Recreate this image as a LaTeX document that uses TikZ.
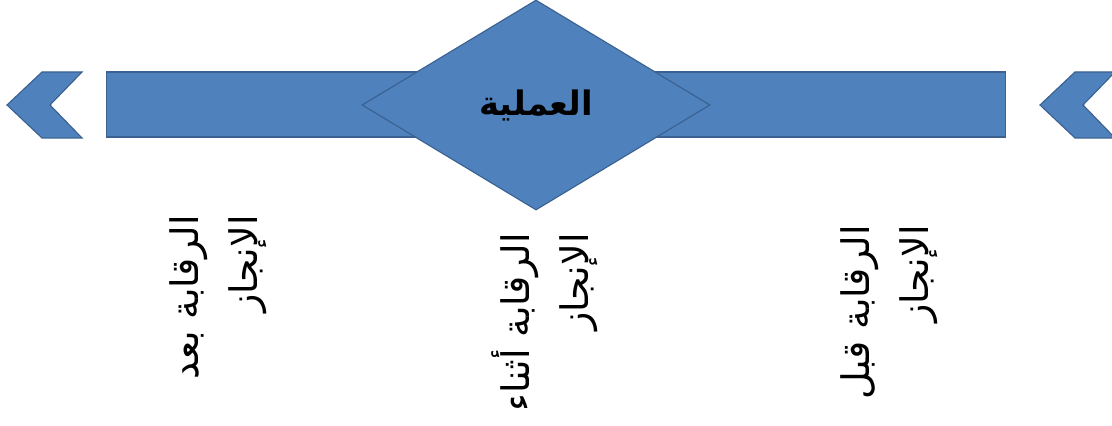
\documentclass[tikz,border=0pt]{standalone}
\usepackage{fontspec}
\newfontfamily\arabicfont[Script=Arabic]{DejaVu Sans}
\TeXXeTstate=1
\usetikzlibrary{shapes.geometric}
\definecolor{barblue}{HTML}{4F81BD}
\definecolor{edgeblue}{HTML}{3A6190}
\tikzset{
  shapeblue/.style={fill=barblue, draw=edgeblue, line width=0.8pt},
  stagelabel/.style={rotate=90, anchor=east, align=right, inner sep=0pt,
    font=\arabicfont\fontsize{27}{42}\selectfont},
}
\begin{document}
\begin{tikzpicture}[x=0.025cm, y=-0.025cm]
    \useasboundingbox (0,0) rectangle (1112,426);
    \clip (0,0) rectangle (1112,426);
    % chevrons at both ends
    \foreach \cx in {7,1040} {
      \draw[shapeblue] (\cx,105) -- (\cx+35,72) -- (\cx+75,72) -- (\cx+43,105)
        -- (\cx+75,138) -- (\cx+35,138) -- cycle;
    }
    \node (bar) [shapeblue, rectangle, inner sep=0pt, minimum width=22.45cm, minimum height=1.625cm] at (556,104.5) {};
    \node (proc) [shapeblue, diamond, inner sep=0pt, minimum width=8.7cm, minimum height=5.25cm,
      font=\arabicfont\bfseries\fontsize{24}{28}\selectfont] at (536,105) {\beginR العملية\endR};
    \node (after) [stagelabel] at (218,215) {\beginR الرقابة بعد\endR\\\beginR الإنجاز\endR};
    \node (during) [stagelabel] at (545,233) {\beginR الرقابة أثناء\endR\\\beginR الإنجاز\endR};
    \node (before) [stagelabel] at (889,225) {\beginR الرقابة قبل\endR\\\beginR الإنجاز\endR};
  \end{tikzpicture}
\end{document}
